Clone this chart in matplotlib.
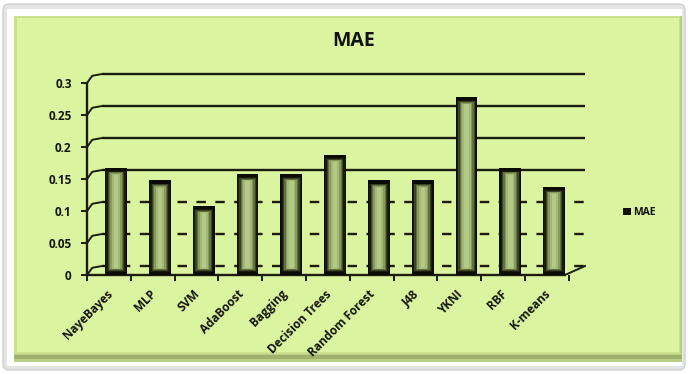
import numpy as np
import matplotlib
matplotlib.use("Agg")
import matplotlib.pyplot as plt
from matplotlib.patches import Rectangle, FancyBboxPatch
import matplotlib.transforms as mtransforms

plt.rcParams['font.family'] = ['Open Sans', 'DejaVu Sans']

categories = ["NayeBayes", "MLP", "SVM", "AdaBoost", "Bagging", "Decision Trees",
              "Random Forest", "J48", "YKNI", "RBF", "K-means"]
mae = [0.16, 0.14, 0.10, 0.15, 0.15, 0.18, 0.14, 0.14, 0.27, 0.16, 0.13]
yticks = [0, 0.05, 0.1, 0.15, 0.2, 0.25, 0.3]
ytick_labels = ["0", "0.05", "0.1", "0.15", "0.2", "0.25", "0.3"]
title = "MAE"
legend_label = "MAE"

W, H = 688, 374
fig = plt.figure(figsize=(W / 100, H / 100), dpi=100)
fig.patch.set_facecolor("white")

def px(x0, y0, x1, y1):
    return (x0 / W, 1 - y1 / H, (x1 - x0) / W, (y1 - y0) / H)

# outer frame and panel
bg = fig.add_axes([0, 0, 1, 1], zorder=-10)
bg.set_xlim(0, W); bg.set_ylim(H, 0); bg.axis("off")
bg.add_patch(FancyBboxPatch((3, 4), W - 6, H - 8, boxstyle="round,pad=0,rounding_size=6",
                            facecolor="#e4e4e4", edgecolor="#d0d0d0", lw=1))
bg.add_patch(Rectangle((7, 9), W - 13, H - 17, facecolor="white", edgecolor="none"))
bg.add_patch(Rectangle((14, 16), 668, 346, facecolor="#b9cf85", edgecolor="none"))
bg.add_patch(Rectangle((14, 16), 666, 338, facecolor="#c9e08f", edgecolor="none"))
bg.add_patch(Rectangle((17, 18), 662, 334, facecolor="#daf4a0", edgecolor="none"))
bg.add_patch(Rectangle((14, 355), 668, 4, facecolor="#9fb26c", edgecolor="none"))

# plot axes in pixel geometry
x_left_px, x_right_px, y0_px, ytop_px = 87, 600, 275, 60
ax = fig.add_axes(px(x_left_px, ytop_px, x_right_px, y0_px))
ax.patch.set_alpha(0)
n = len(categories)
idx = np.arange(n)
ppu_x = 43.8
ppu_y = 640.0
xl = -(117 - x_left_px) / ppu_x
xr = xl + (x_right_px - x_left_px) / ppu_x
ymax = (y0_px - ytop_px) / ppu_y
ax.set_xlim(xl, xr)
ax.set_ylim(0, ymax)

dx = 15 / ppu_x
dy = 9 / ppu_y
grid_end = (585 - 117) / ppu_x
for v in yticks:
    ls = "-" if v >= 0.15 else (0, (4, 4))
    ax.plot([xl + dx, grid_end], [v + dy, v + dy], color="#1c1c10", lw=1.7,
            ls=ls, zorder=1, solid_capstyle="butt")
    ax.plot([xl, xl + dx * 0.35, xl + dx], [v, v + dy * 0.8, v + dy],
            color="#1c1c10", lw=1.4, zorder=1)
axis_end = (565 - 117) / ppu_x
ax.plot([axis_end, grid_end], [0, dy], color="#1c1c10", lw=1.4, zorder=1)

# bars with layered shading (3D-like cap on top)
cap = 5 / ppu_y
tops = [v + cap for v in mae]
layers = [(0.50, "#0b0b05"), (0.44, "#1a1d0e"), (0.38, "#3a4322"),
          (0.32, "#627140"), (0.26, "#879b5c"), (0.19, "#a3b875"), (0.10, "#b4c888")]
for i, (w, c) in enumerate(layers):
    inset = (0.004 + 0.0012 * i) if i > 0 else 0
    heights = [max(t - 2 * inset, 0) for t in tops]
    ax.bar(idx - 0.02, heights, width=w, bottom=inset, color=c,
           edgecolor="none", zorder=3 + i * 0.01)

for s in ["top", "right"]:
    ax.spines[s].set_visible(False)
ax.spines["left"].set_bounds(0, 0.3)
ax.spines["bottom"].set_bounds(xl, axis_end)
for s in ["left", "bottom"]:
    ax.spines[s].set_color("#1c1c10")
    ax.spines[s].set_linewidth(1.7)

ax.set_yticks(yticks)
ax.set_yticklabels(ytick_labels, fontsize=8.5, fontweight="bold", color="#151510")
ax.tick_params(axis="y", length=4, width=1.4, color="#1c1c10", pad=7)

ax.set_xticks(idx)
ax.set_xticklabels(categories, rotation=45, ha="right", va="top",
                   rotation_mode="anchor", fontsize=8.5, fontweight="bold",
                   color="#151510")
ax.tick_params(axis="x", length=0, pad=9)
offset = mtransforms.ScaledTranslation(-8 / 72, 0, fig.dpi_scale_trans)
for lab in ax.get_xticklabels():
    lab.set_transform(lab.get_transform() + offset)
ax.set_xticks(np.arange(n + 1) + xl, minor=True)
ax.tick_params(axis="x", which="minor", length=4, width=1.4, color="#1c1c10")

# title and legend
fig.text(354 / W, 1 - 41 / H, title, ha="center", va="center", fontsize=14,
         fontweight="bold", color="#111111")
bg.add_patch(Rectangle((623, 208), 8, 7, facecolor="#111108", edgecolor="none"))
bg.text(633, 212, legend_label, ha="left", va="center", fontsize=7.5,
        fontweight="bold", color="#111111")

fig.savefig("out.png", dpi=100)
